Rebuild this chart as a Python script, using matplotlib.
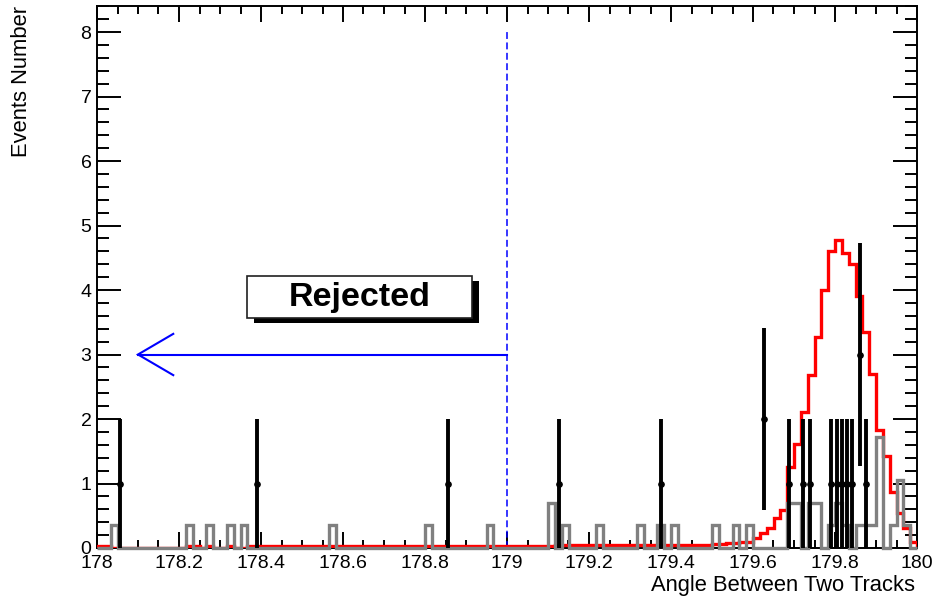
import numpy as np
import matplotlib
matplotlib.use("Agg")
import matplotlib.pyplot as plt
from matplotlib.patches import Rectangle
from matplotlib.ticker import MultipleLocator, FixedLocator, FixedFormatter

plt.rcParams['font.family'] = ['Liberation Sans', 'DejaVu Sans']

# ---------------- data ----------------
x_min, x_max, n_bins = 178.0, 180.0, 120

# signal MC (red), 120 bins between 178 and 180
red_counts = [
    0.03, 0.03, 0, 0, 0, 0, 0, 0, 0, 0,
    0, 0, 0, 0.03, 0.03, 0, 0.03, 0, 0, 0.03,
    0, 0, 0.03, 0.03, 0.03, 0.03, 0.03, 0.03, 0.03, 0.03,
    0.03, 0.03, 0.03, 0.03, 0.03, 0.03, 0.03, 0.03, 0.03, 0.03,
    0.03, 0.03, 0.03, 0.03, 0.03, 0.03, 0.03, 0.03, 0.03, 0.03,
    0.03, 0.03, 0.03, 0.03, 0.03, 0.03, 0.03, 0.03, 0.03, 0.03,
    0.03, 0.03, 0.03, 0.03, 0.03, 0.03, 0.03, 0.04, 0.04, 0.05,
    0.05, 0.04, 0.04, 0.04, 0.04, 0.04, 0.04, 0.04, 0.04, 0.04,
    0.04, 0.04, 0.04, 0.04, 0.05, 0.05, 0.05, 0.05, 0.05, 0.05,
    0.06, 0.06, 0.07, 0.08, 0.10, 0.10, 0.15, 0.23, 0.31, 0.46,
    0.59, 1.26, 1.62, 2.11, 2.68, 3.27, 4.00, 4.60, 4.78, 4.57,
    4.40, 3.90, 3.35, 2.70, 1.83, 1.42, 0.87, 0.54, 0.31, 0.10,
]

# background MC (grey), same binning
gray_counts = [0.0] * n_bins
gray_filled_bins = [2, 13, 16, 19, 21, 34, 48, 57, 66, 68, 73, 79, 82, 84,
                    90, 93, 95, 101, 102, 104, 105, 107, 108, 109, 111,
                    112, 113, 114, 116, 117, 118]
gray_filled_vals = [0.35, 0.35, 0.35, 0.35, 0.35, 0.35, 0.35, 0.35, 0.70, 0.35,
                    0.35, 0.35, 0.35, 0.35, 0.35, 0.35, 0.35, 0.70, 0.70, 0.70,
                    0.70, 0.35, 0.70, 0.35, 0.35, 0.35, 0.35, 1.72, 0.35, 1.05,
                    0.35]
for b, v in zip(gray_filled_bins, gray_filled_vals):
    gray_counts[b] = v

# data points (black)
data_x = [178.056, 178.390, 178.856, 179.127, 179.376, 179.627, 179.689,
          179.723, 179.739, 179.790, 179.804, 179.816, 179.829, 179.842,
          179.862, 179.876]
data_y = [1, 1, 1, 1, 1, 2, 1, 1, 1, 1, 1, 1, 1, 1, 3, 1]

x_ticks = [178.0, 178.2, 178.4, 178.6, 178.8, 179.0, 179.2, 179.4, 179.6, 179.8, 180.0]
x_tick_labels = ["178", "178.2", "178.4", "178.6", "178.8", "179",
                 "179.2", "179.4", "179.6", "179.8", "180"]
y_ticks = [0, 1, 2, 3, 4, 5, 6, 7, 8]
y_tick_labels = ["0", "1", "2", "3", "4", "5", "6", "7", "8"]

cut_value = 179.0
cut_top = 8.0
arrow_y = 3.0
arrow_tip = 178.10
arrow_head_x = 178.186
arrow_head_dy = 0.32

box_text = "Rejected"
box_x0, box_x1 = 178.366, 178.915
box_y0, box_y1 = 3.57, 4.22

x_title = "Angle Between Two Tracks"
y_title = "Events Number"

# ---------------- figure ----------------
W, H = 932, 600
fig = plt.figure(figsize=(W / 100, H / 100), dpi=100)
fig.patch.set_facecolor("white")
ax = fig.add_axes([97 / W, 52 / H, 820 / W, 541.8 / H])
ax.set_xlim(x_min, x_max)
ax.set_ylim(0, 8.4)

edges = np.linspace(x_min, x_max, n_bins + 1)

ax.stairs(red_counts, edges, color="#ff0000", lw=2.4, zorder=2.6)
ax.stairs(gray_counts, edges, color="#808080", lw=2.4, zorder=3, clip_on=False)
ax.errorbar(data_x, data_y, yerr=np.sqrt(data_y), fmt="o", ms=3.8,
            color="black", ecolor="black", elinewidth=2.8, capsize=0, zorder=4)

# cut line
ax.plot([cut_value, cut_value], [0, cut_top], color="#0000ff", lw=1.1,
        linestyle=(0, (4.5, 2.3)), zorder=2.4)

# arrow
ax.plot([cut_value, arrow_tip], [arrow_y, arrow_y], color="#0000ff", lw=1.5, zorder=2.4)
ax.plot([arrow_head_x, arrow_tip, arrow_head_x],
        [arrow_y + arrow_head_dy, arrow_y, arrow_y - arrow_head_dy],
        color="#0000ff", lw=1.5, zorder=2.4, solid_joinstyle="miter")

# "Rejected" box with shadow
sdx, sdy = 7 / 410, 5 / 64.5
ax.add_patch(Rectangle((box_x0 + sdx, box_y0 - sdy), box_x1 - box_x0, box_y1 - box_y0,
                       facecolor="black", edgecolor="black", lw=0, zorder=5))
ax.add_patch(Rectangle((box_x0, box_y0), box_x1 - box_x0, box_y1 - box_y0,
                       facecolor="white", edgecolor="#202020", lw=1.2, zorder=5.1))
ax.text((box_x0 + box_x1) / 2, (box_y0 + box_y1) / 2 - 0.01, box_text,
        ha="center", va="center", fontsize=24.5, fontweight="bold", zorder=6)

# axes styling
for s in ax.spines.values():
    s.set_linewidth(1.4)
    s.set_color("black")
ax.xaxis.set_major_locator(FixedLocator(x_ticks))
ax.xaxis.set_major_formatter(FixedFormatter(x_tick_labels))
ax.xaxis.set_minor_locator(MultipleLocator(0.05))
ax.yaxis.set_major_locator(FixedLocator(y_ticks))
ax.yaxis.set_major_formatter(FixedFormatter(y_tick_labels))
ax.yaxis.set_minor_locator(MultipleLocator(0.2))

ax.tick_params(which="both", direction="in", top=True, right=True,
               width=1.4, color="black", labelsize=14)
ax.tick_params(axis="x", which="major", length=11.5, pad=5)
ax.tick_params(axis="x", which="minor", length=5.8)
ax.tick_params(axis="y", which="major", length=17, pad=4)
ax.tick_params(axis="y", which="minor", length=8.6)

fig.text(915 / W, 1 - 585 / H, x_title, ha="right", va="center", fontsize=15.8)
fig.text(22 / W, 1 - 6 / H, y_title, ha="center", va="top", rotation=90, fontsize=15.8)

fig.savefig("out.png", dpi=100, facecolor="white")
